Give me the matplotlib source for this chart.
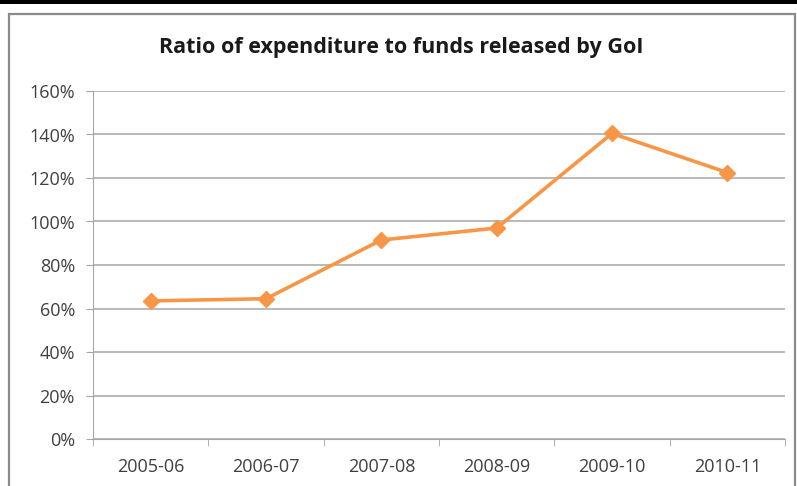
import matplotlib.pyplot as plt
from matplotlib.patches import Rectangle
from matplotlib.ticker import FuncFormatter

years = ['2005-06', '2006-07', '2007-08', '2008-09', '2009-10', '2010-11']
ratio = [63.5, 64.5, 91.5, 97, 140.5, 122.5]
yticks = [0, 20, 40, 60, 80, 100, 120, 140, 160]

plt.rcParams['font.family'] = ['Open Sans', 'DejaVu Sans']

fig = plt.figure(figsize=(7.97, 4.86), dpi=100)

# black strip at top and chart frame
fig.patches.append(Rectangle((0, 1 - 4/486), 1, 4/486, transform=fig.transFigure,
                             facecolor='black', edgecolor='none'))
fig.patches.append(Rectangle((8.5/797, -0.05), (795 - 8.5)/797, 1 - 13.5/486 + 0.05,
                             transform=fig.transFigure, facecolor='none',
                             edgecolor='#8a8a8a', linewidth=1.6))

ax = fig.add_axes([93/797, 1 - 439/486, (785 - 93)/797, (439 - 91)/486])
x = list(range(len(years)))
ax.plot(x, ratio, color='#F79646', linewidth=2.6, marker='D', markersize=8,
        markeredgecolor='#F79646', zorder=3)

ax.set_xlim(-0.5, len(years) - 0.5)
ax.set_ylim(0, 160)
ax.set_yticks(yticks)
ax.yaxis.set_major_formatter(FuncFormatter(lambda v, p: f'{int(v)}%'))
ax.set_xticks(x)
ax.set_xticklabels(years)
ax.set_xticks([i - 0.5 for i in range(len(years) + 1)], minor=True)
ax.grid(axis='y', color='#a6a6a6', linewidth=1.1)
ax.set_axisbelow(True)

for s in ['top', 'right']:
    ax.spines[s].set_visible(False)
ax.spines['left'].set_color('#a6a6a6')
ax.spines['bottom'].set_color('#a6a6a6')
ax.tick_params(axis='y', length=5, color='#a6a6a6', labelsize=13, labelcolor='#404040', pad=8)
ax.tick_params(axis='x', which='major', length=0, labelsize=13, labelcolor='#404040', pad=14)
ax.tick_params(axis='x', which='minor', length=5, color='#a6a6a6')

fig.text(0.5035, 1 - 47/486, 'Ratio of expenditure to funds released by GoI',
         ha='center', va='center', fontsize=15.5, fontweight='bold', color='#1a1a1a')

plt.savefig('out.png', dpi=100)
